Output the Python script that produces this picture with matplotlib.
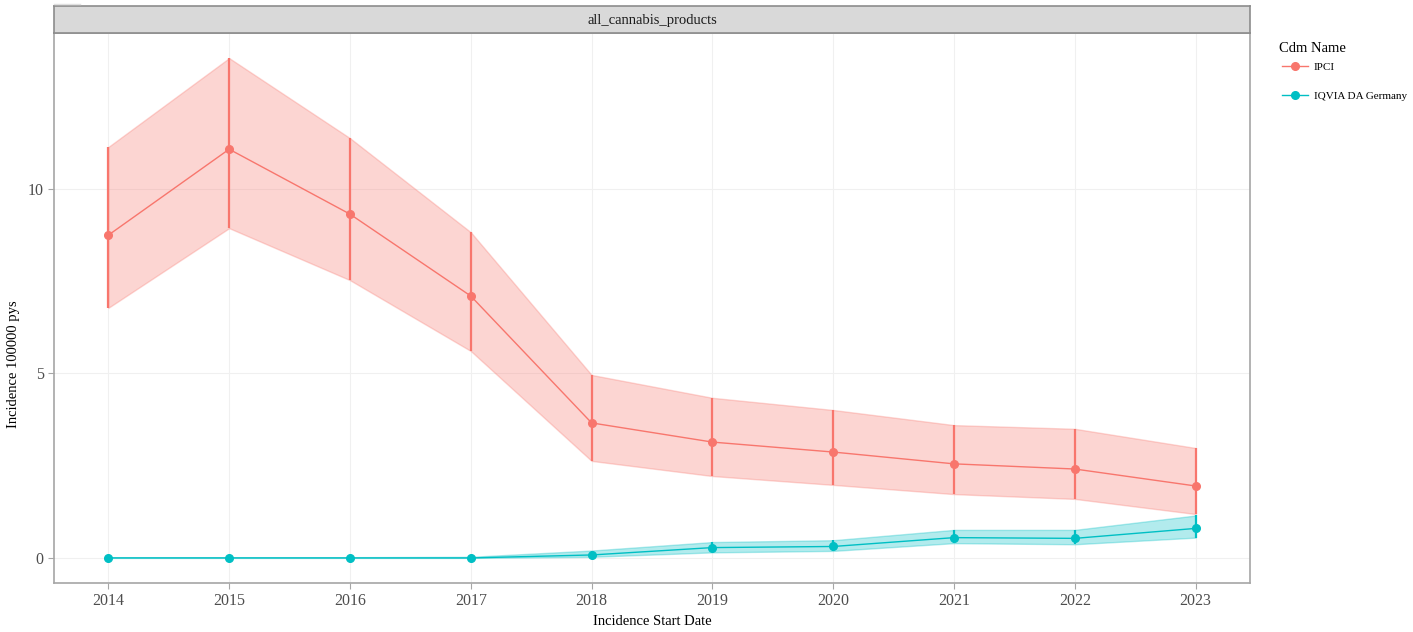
import matplotlib
matplotlib.use("Agg")
import matplotlib.pyplot as plt
from matplotlib.lines import Line2D

plt.rcParams['font.family'] = ['Liberation Serif', 'DejaVu Serif']

years = [2014, 2015, 2016, 2017, 2018, 2019, 2020, 2021, 2022, 2023]
ipci = [8.75, 11.08, 9.32, 7.10, 3.66, 3.14, 2.87, 2.55, 2.41, 1.95]
ipci_lo = [6.78, 8.94, 7.53, 5.61, 2.63, 2.22, 1.98, 1.73, 1.60, 1.19]
ipci_hi = [11.14, 13.55, 11.38, 8.83, 4.96, 4.34, 4.01, 3.60, 3.50, 2.98]
iqvia = [0.0, 0.0, 0.0, 0.0, 0.08, 0.28, 0.31, 0.55, 0.53, 0.80]
iqvia_lo = [0.0, 0.0, 0.0, 0.0, 0.03, 0.15, 0.19, 0.40, 0.37, 0.55]
iqvia_hi = [0.02, 0.02, 0.02, 0.03, 0.20, 0.43, 0.48, 0.76, 0.76, 1.15]
series_names = ["IPCI", "IQVIA DA Germany"]
colors = ["#F8766D", "#00BFC4"]
yticks = [0, 5, 10]

W, H = 1413, 632
fig = plt.figure(figsize=(W / 100, H / 100), dpi=100)

def px_axes(x0, y0, x1, y1):
    return fig.add_axes([x0 / W, 1 - y1 / H, (x1 - x0) / W, (y1 - y0) / H])

ax = px_axes(54, 33, 1250, 583)
strip = px_axes(54, 6, 1250, 33)

for vals, lo, hi, col in [(ipci, ipci_lo, ipci_hi, colors[0]),
                          (iqvia, iqvia_lo, iqvia_hi, colors[1])]:
    ax.fill_between(years, lo, hi, color=col, alpha=0.3, linewidth=1.0, edgecolor=col, zorder=2)
    ax.vlines(years, lo, hi, color=col, linewidth=1.6, zorder=3)
    ax.plot(years, vals, color=col, linewidth=1.0, marker='o', markersize=5.5, zorder=4)

ax.set_xlim(2013.55, 2023.45)
ax.set_ylim(-0.68, 14.23)
ax.set_xticks(years)
ax.set_xticklabels([str(y) for y in years])
ax.set_yticks(yticks)
ax.grid(True, color="#F0F0F0", linewidth=0.8, zorder=0)
ax.set_axisbelow(True)
for s in ax.spines.values():
    s.set_color("#A6A6A6")
    s.set_linewidth(1.2)
ax.tick_params(axis='both', colors="#A6A6A6", labelcolor="#4D4D4D", labelsize=11.5, length=4)
ax.set_xlabel("Incidence Start Date", fontsize=10.5, color="black", labelpad=4)
ax.set_ylabel("Incidence 100000 pys", fontsize=10.5, color="black")
ax.yaxis.set_label_coords((20 - 54) / (1250 - 54), 1 - (364 - 33) / (583 - 33))

strip.set_facecolor("#D9D9D9")
strip.set_xticks([])
strip.set_yticks([])
for s in strip.spines.values():
    s.set_color("#8C8C8C")
    s.set_linewidth(1.2)
strip.text(0.5, 0.45, "all_cannabis_products", ha='center', va='center', fontsize=10.5,
           color="#1A1A1A", transform=strip.transAxes)

# legend drawn in figure pixel coordinates
def fx(x):
    return x / W

def fy(y):
    return 1 - y / H

fig.add_artist(Line2D([fx(54), fx(80)], [fy(3.5), fy(3.5)], color="#E0E0E0", linewidth=1.0,
                      transform=fig.transFigure))
fig.text(fx(1279), fy(48), "Cdm Name", ha='left', va='center', fontsize=10.5, color="black")
for name, col, ypx in zip(series_names, colors, [66, 95]):
    fig.add_artist(Line2D([fx(1282), fx(1308)], [fy(ypx), fy(ypx)], color=col, linewidth=1.0,
                          transform=fig.transFigure))
    fig.add_artist(Line2D([fx(1295)], [fy(ypx)], color=col, marker='o', markersize=5.5,
                          linestyle='none', transform=fig.transFigure))
    fig.text(fx(1314), fy(ypx + 1.5), name, ha='left', va='center', fontsize=8, color="black")

fig.savefig("out.png", dpi=100)
